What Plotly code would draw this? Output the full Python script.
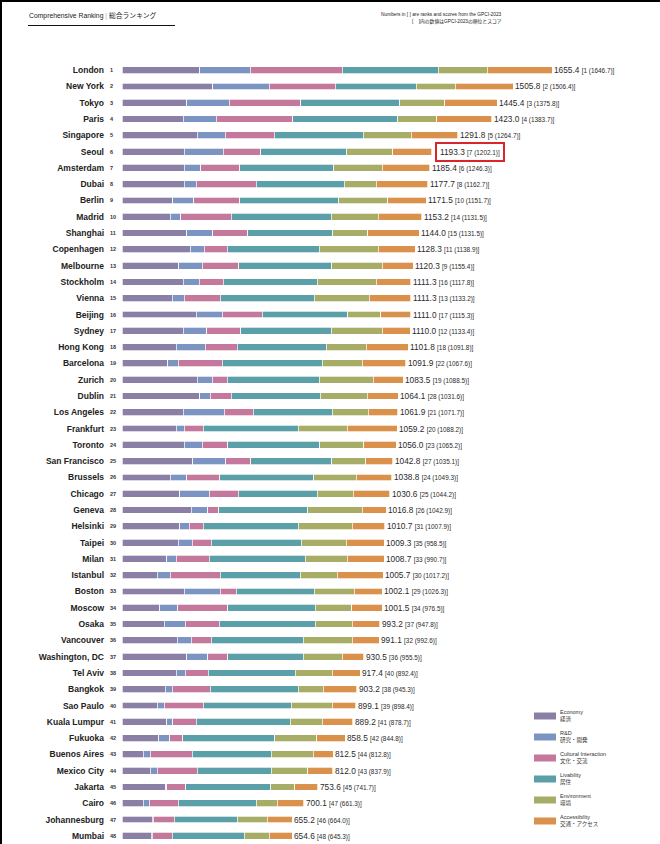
import plotly.graph_objects as go

cities = ["London", "New York", "Tokyo", "Paris", "Singapore", "Seoul", "Amsterdam", "Dubai",
          "Berlin", "Madrid", "Shanghai", "Copenhagen", "Melbourne", "Stockholm", "Vienna", "Beijing",
          "Sydney", "Hong Kong", "Barcelona", "Zurich", "Dublin", "Los Angeles", "Frankfurt", "Toronto",
          "San Francisco", "Brussels", "Chicago", "Geneva", "Helsinki", "Taipei", "Milan", "Istanbul",
          "Boston", "Moscow", "Osaka", "Vancouver", "Washington, DC", "Tel Aviv", "Bangkok", "Sao Paulo",
          "Kuala Lumpur", "Fukuoka", "Buenos Aires", "Mexico City", "Jakarta", "Cairo", "Johannesburg", "Mumbai"]
ranks = list(range(1, 49))

economy = [300, 350, 250, 235, 289, 239, 239, 239, 196, 185, 250, 262, 219, 235, 193, 285,
           235, 208, 177, 289, 300, 235, 208, 239, 273, 185, 223, 266, 223, 216, 173, 135,
           239, 146, 162, 212, 250, 208, 166, 135, 173, 142, 81, 108, 169, 81, 116, 112]
rnd = [193, 216, 162, 127, 108, 150, 65, 46, 81, 42, 100, 54, 89, 62, 46, 100,
       92, 112, 39, 58, 39, 158, 31, 69, 127, 65, 112, 65, 35, 54, 35, 50,
       139, 69, 81, 54, 81, 35, 27, 27, 23, 42, 27, 27, 4, 23, 4, 4]
cultural = [354, 254, 277, 296, 189, 146, 150, 231, 177, 193, 135, 89, 142, 92, 139, 154,
            131, 123, 169, 58, 81, 112, 73, 100, 96, 127, 112, 42, 54, 73, 127, 193,
            62, 193, 131, 77, 77, 89, 146, 150, 89, 50, 162, 154, 73, 112, 81, 77]
livability = [370, 312, 381, 404, 343, 331, 362, 339, 381, 385, 327, 354, 358, 362, 362, 331,
              347, 343, 385, 354, 343, 304, 366, 354, 312, 362, 304, 343, 366, 347, 370, 308,
              300, 335, 370, 354, 289, 335, 339, 339, 362, 354, 304, 285, 327, 300, 243, 277]
environment = [189, 150, 173, 150, 185, 177, 185, 123, 189, 181, 135, 227, 193, 227, 212, 127,
               196, 154, 154, 208, 181, 139, 189, 169, 131, 162, 139, 208, 208, 173, 162, 142,
               154, 142, 142, 189, 150, 142, 96, 158, 123, 162, 162, 142, 92, 81, 116, 96]
accessibility = [249.4, 223.8, 202.4, 211.0, 177.8, 150.3, 184.4, 199.7, 147.5, 167.2, 197.0, 142.3,
                 119.3, 133.3, 159.3, 114.0, 109.0, 161.8, 167.9, 116.5, 120.1, 113.9, 192.2, 125.0,
                 103.8, 137.8, 140.6, 92.8, 124.7, 146.3, 141.7, 177.7, 108.1, 116.5, 107.2, 105.1,
                 83.5, 108.4, 129.2, 90.1, 119.2, 108.5, 76.5, 96.0, 88.6, 103.1, 95.2, 88.6]
totals = [1655.4, 1505.8, 1445.4, 1423.0, 1291.8, 1193.3, 1185.4, 1177.7, 1171.5, 1153.2, 1144.0, 1128.3,
          1120.3, 1111.3, 1111.3, 1111.0, 1110.0, 1101.8, 1091.9, 1083.5, 1064.1, 1061.9, 1059.2, 1056.0,
          1042.8, 1038.8, 1030.6, 1016.8, 1010.7, 1009.3, 1008.7, 1005.7, 1002.1, 1001.5, 993.2, 991.1,
          930.5, 917.4, 903.2, 899.1, 889.2, 858.5, 812.5, 812.0, 753.6, 700.1, 655.2, 654.6]
prev_rank = [1, 2, 3, 4, 5, 7, 6, 8, 10, 14, 15, 11, 9, 16, 13, 17, 12, 18, 22, 19, 28, 21, 20, 23,
             27, 24, 25, 26, 31, 35, 33, 30, 29, 34, 37, 32, 36, 40, 38, 39, 41, 42, 44, 43, 45, 47, 46, 48]
prev_score = ["1646.7", "1506.4", "1375.8", "1383.7", "1264.7", "1202.1", "1246.3", "1162.7", "1151.7",
              "1131.5", "1131.5", "1138.9", "1155.4", "1117.8", "1133.2", "1115.3", "1133.4", "1091.8",
              "1067.6", "1088.5", "1031.6", "1071.7", "1088.2", "1065.2", "1035.1", "1049.3", "1044.2",
              "1042.9", "1007.9", "958.5", "990.7", "1017.2", "1026.3", "976.5", "947.8", "992.6",
              "955.5", "892.4", "945.3", "898.4", "878.7", "844.8", "812.8", "837.9", "741.7",
              "661.3", "664.0", "645.3"]

series_names = ["Economy", "R&D", "Cultural Interaction", "Livability", "Environment", "Accessibility"]
series_jp = ["経済", "研究・開発", "文化・交流", "居住", "環境", "交通・アクセス"]
series_vals = [economy, rnd, cultural, livability, environment, accessibility]
colors = ["#8a80a5", "#7b94c1", "#c4789b", "#5b9fa8", "#a7ad66", "#d9914c"]

FONT = "Liberation Sans, Arial, Noto Sans CJK JP, sans-serif"
W, H = 660, 844
L, R, T, B = 122, 20, 62, 0
PW, PH = W - L - R, H - T - B


def px(x):
    return (x - L) / PW


def py(y):
    return 1 - (y - T) / PH


fig = go.Figure()
for name, vals, col in zip(series_names, series_vals, colors):
    fig.add_trace(go.Bar(
        y=cities, x=vals, orientation="h", name=name,
        marker=dict(color=col, line=dict(color="white", width=0.7)),
        showlegend=False, hoverinfo="x+y",
    ))

annotations = []
for i, c in enumerate(cities):
    annotations.append(dict(
        x=0, y=c, xref="x", yref="y", xanchor="left", yanchor="middle", xshift=-14,
        text=f"<b>{ranks[i]}</b>", showarrow=False,
        font=dict(family=FONT, size=5.5, color="#333333"),
    ))
    seoul = (c == "Seoul")
    annotations.append(dict(
        x=totals[i], y=c, xref="x", yref="y", xanchor="left", yanchor="middle",
        xshift=3 if seoul else 1,
        text=f"{totals[i]:.1f} <span style='font-size:6.4px'>[{prev_rank[i]} ({prev_score[i]})]</span>",
        showarrow=False,
        font=dict(family=FONT, size=8.3, color="#2a2a2a"),
        bordercolor="#d8262c" if seoul else "rgba(0,0,0,0)",
        borderwidth=2 if seoul else 0,
        borderpad=3 if seoul else 1,
    ))

# title and note
annotations.append(dict(
    x=px(27), y=py(15), xref="paper", yref="paper", xanchor="left", yanchor="middle",
    text="Comprehensive Ranking <span style='color:#aaaaaa'>|</span> 総合ランキング",
    showarrow=False, font=dict(family=FONT, size=6.8, color="#222222"),
))
annotations.append(dict(
    x=px(504), y=py(14), xref="paper", yref="paper", xanchor="right", yanchor="middle",
    text="Numbers in [ ] are ranks and scores from the GPCI-2023",
    showarrow=False, font=dict(family=FONT, size=4.8, color="#222222"),
))
annotations.append(dict(
    x=px(504), y=py(21.5), xref="paper", yref="paper", xanchor="right", yanchor="middle",
    text="[    ]内の数値はGPCI-2023の順位とスコア",
    showarrow=False, font=dict(family=FONT, size=4.8, color="#222222"),
))

shapes = [
    dict(type="line", xref="paper", yref="paper", x0=px(28), x1=px(175), y0=py(25.5), y1=py(25.5),
         line=dict(color="#111111", width=1)),
    dict(type="line", xref="paper", yref="paper", x0=px(1), x1=px(1), y0=py(0), y1=py(H),
         line=dict(color="#000000", width=2)),
    dict(type="line", xref="paper", yref="paper", x0=px(0), x1=px(W), y0=py(1), y1=py(1),
         line=dict(color="#000000", width=2)),
]

# legend (drawn manually)
for i, (n, jp, col) in enumerate(zip(series_names, series_jp, colors)):
    cy = 716 + 21 * i
    shapes.append(dict(type="rect", xref="paper", yref="paper",
                       x0=px(534), x1=px(556), y0=py(cy - 3.5), y1=py(cy + 3.5),
                       fillcolor=col, line=dict(width=0)))
    annotations.append(dict(
        x=px(558), y=py(cy), xref="paper", yref="paper", xanchor="left", yanchor="middle",
        text=f"{n}<br>{jp}", align="left", showarrow=False,
        font=dict(family=FONT, size=5.5, color="#333333"),
    ))

fig.update_layout(
    barmode="stack",
    bargap=0.58,
    width=W, height=H,
    margin=dict(l=L, r=R, t=T, b=B, pad=0),
    paper_bgcolor="white", plot_bgcolor="white",
    font=dict(family=FONT),
    xaxis=dict(visible=False, range=[0, PW * 1655.4 / 430.0], fixedrange=True),
    yaxis=dict(
        range=[len(cities) - 0.5, -0.5],
        tickmode="array", tickvals=cities, ticktext=[f"<b>{c}</b>" for c in cities],
        tickfont=dict(family=FONT, size=8.5, color="#222222"),
        ticks="", showline=False, showgrid=False, zeroline=False,
        ticklabelstandoff=17, automargin=False, fixedrange=True,
    ),
    annotations=annotations,
    shapes=shapes,
)

fig.write_html(
    "out.html",
    config={"displayModeBar": False},
    post_script="document.body.style.margin='0px';document.body.style.overflow='hidden';",
)
